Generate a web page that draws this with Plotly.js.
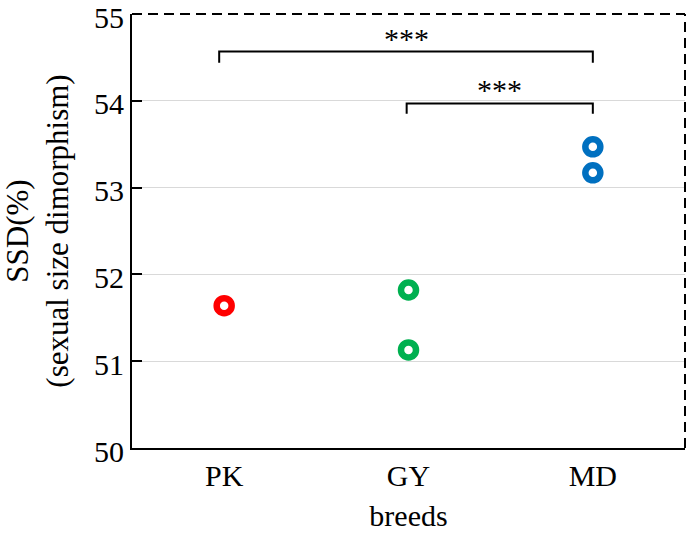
<!DOCTYPE html>
<html>
<head>
<meta charset="utf-8">
<script src="https://cdn.plot.ly/plotly-3.0.1.min.js"></script>
<style>html,body{margin:0;padding:0;background:#fff;}#chart{width:688px;height:536px;}</style>
</head>
<body>
<div id="chart"></div>
<script>
// ---- data ----
const categories = ['PK', 'GY', 'MD'];
const pkValues = [51.64];
const gyValues = [51.82, 51.13];
const mdValues = [53.47, 53.17];
const yTickVals = [50, 51, 52, 53, 54, 55];
const sigLabels = ['***', '***'];

const FONT = 'Liberation Serif, Times New Roman, serif';

function series(cat, vals, color) {
  return {
    type: 'scatter', mode: 'markers',
    x: vals.map(() => cat), y: vals,
    marker: {symbol: 'circle-open', size: 15, color: color, line: {width: 6.5, color: color}},
    showlegend: false, hoverinfo: 'x+y'
  };
}

const traces = [
  series(categories[0], pkValues, '#ff0000'),
  series(categories[1], gyValues, '#00b050'),
  series(categories[2], mdValues, '#0070c0')
];

// significance brackets (category index based)
const bracketDefs = [
  {x0: -0.027, x1: 2.0, y: 54.567, drop: 0.13, label: sigLabels[0]},
  {x0: 0.99, x1: 2.0, y: 53.97, drop: 0.12, label: sigLabels[1]}
];
const shapes = [];
const annotations = [];
const lineStyle = {color: '#000', width: 2};
bracketDefs.forEach(b => {
  shapes.push({type: 'path', xref: 'x', yref: 'y',
    path: `M ${b.x0} ${b.y - b.drop} L ${b.x0} ${b.y} L ${b.x1} ${b.y} L ${b.x1} ${b.y - b.drop}`,
    line: lineStyle});
  annotations.push({xref: 'x', yref: 'y', x: (b.x0 + b.x1) / 2, y: b.y, yshift: -5,
    text: b.label, showarrow: false, yanchor: 'bottom',
    font: {family: FONT, size: 30, color: '#000'}});
});
// frame: white under-line to hide gridline, then dashed top and right
shapes.push({type: 'line', xref: 'paper', yref: 'paper', x0: 0, x1: 1, y0: 1, y1: 1, line: {color: '#fff', width: 3}});
shapes.push({type: 'line', xref: 'paper', yref: 'paper', x0: 0, x1: 1, y0: 1, y1: 1, line: {color: '#000', width: 2, dash: '10px,6px'}});
shapes.push({type: 'line', xref: 'paper', yref: 'paper', x0: 1, x1: 1, y0: 0, y1: 1, line: {color: '#000', width: 2, dash: '10px,6px'}});

const layout = {
  width: 688, height: 536,
  margin: {l: 132, r: 3, t: 14, b: 88},
  paper_bgcolor: '#fff', plot_bgcolor: '#fff',
  font: {family: FONT, size: 30, color: '#000'},
  xaxis: {
    type: 'category', categoryarray: categories, categoryorder: 'array',
    range: [-0.5, 2.5], showgrid: false, zeroline: false,
    showline: true, linecolor: '#000', linewidth: 2,
    ticks: '', tickfont: {family: FONT, size: 30, color: '#000'},
    title: {text: 'breeds', font: {family: FONT, size: 30, color: '#000'}, standoff: 14}
  },
  yaxis: {
    range: [50, 55], tickvals: yTickVals, ticktext: yTickVals.map(String),
    showgrid: true, gridcolor: '#d9d9d9', gridwidth: 1, zeroline: false,
    showline: true, linecolor: '#000', linewidth: 2,
    ticks: 'inside', ticklen: 10, tickwidth: 2, tickcolor: '#000',
    ticklabeloverflow: 'allow', ticklabelshift: 3,
    tickfont: {family: FONT, size: 30, color: '#000'},
    title: {text: 'SSD(%)<br>(sexual size dimorphism)', font: {family: FONT, size: 31, color: '#000'}, standoff: 16}
  },
  shapes: shapes,
  annotations: annotations
};

Plotly.newPlot('chart', traces, layout, {displayModeBar: false, staticPlot: true});
</script>
</body>
</html>
